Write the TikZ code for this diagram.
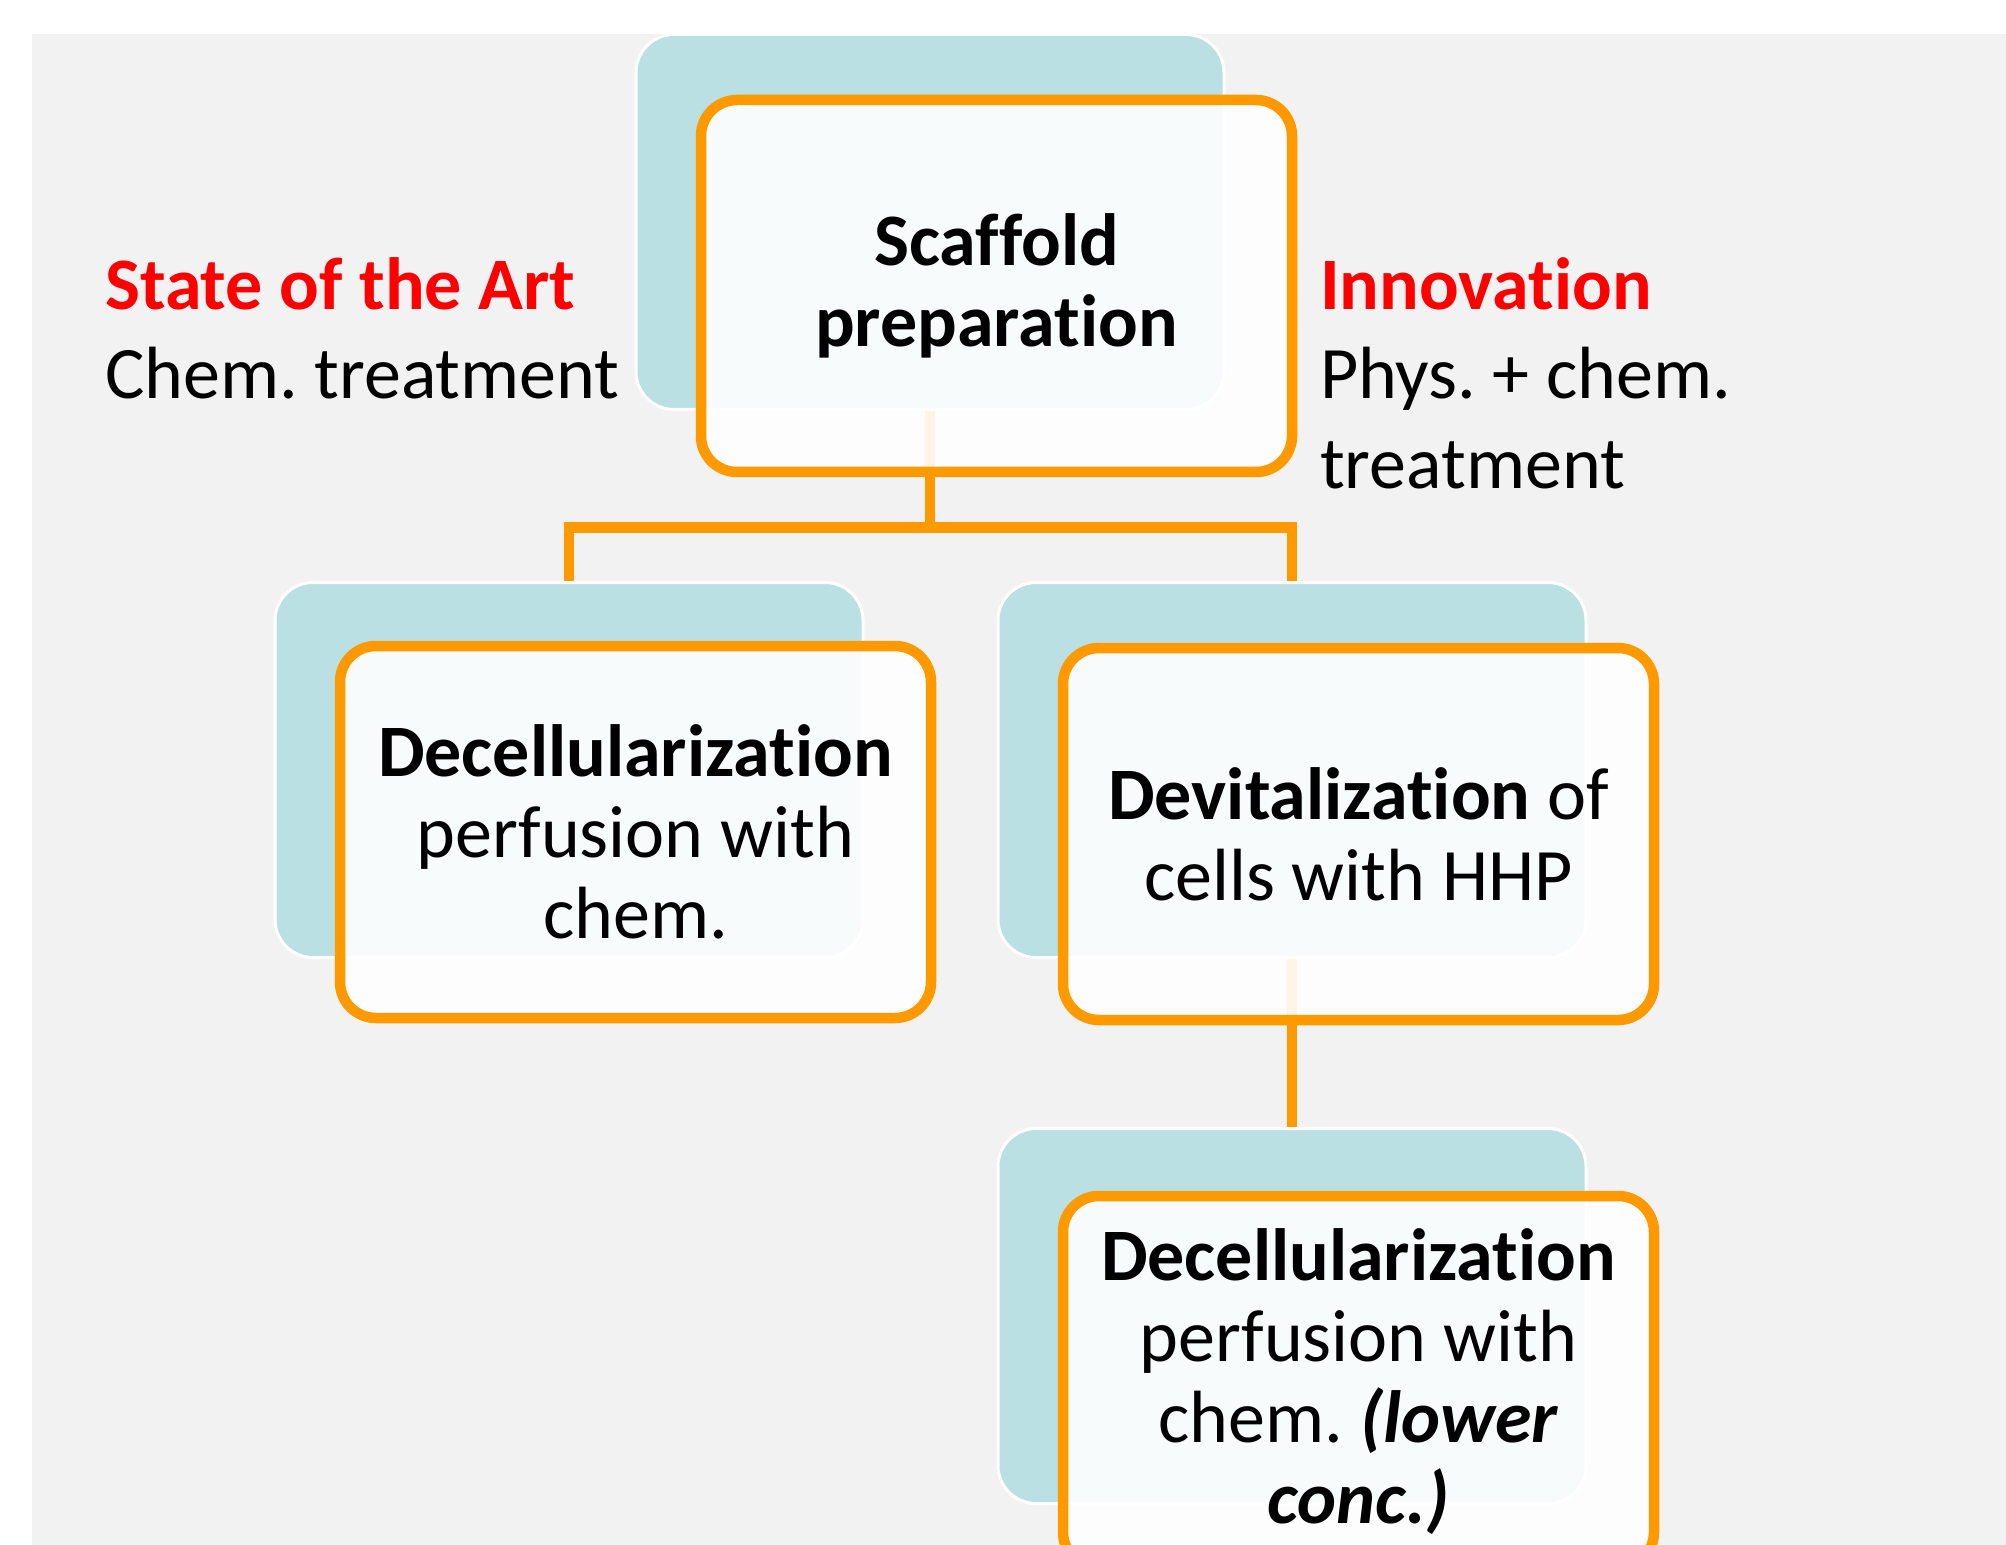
\documentclass[tikz,border=0pt]{standalone}
\usepackage{fontspec}
\setmainfont{Carlito}[Ligatures=NoCommon]
\usepackage{tikz}

\definecolor{boxteal}{RGB}{186,224,227}
\definecolor{boxorange}{RGB}{255,153,0}
\definecolor{pagegray}{RGB}{242,242,242}
\definecolor{labelred}{RGB}{255,0,0}

\newcommand{\boxfont}{\fontsize{37}{40.5}\selectfont}
\newcommand{\labelfont}{\fontsize{37}{44.5}\selectfont}

\tikzset{
    backbox/.style={rectangle,rounded corners=19pt,fill=boxteal,draw=white,line width=1.5pt,
        minimum width=294pt,minimum height=187.5pt},
    frontbox/.style={rectangle,rounded corners=18pt,fill=white,fill opacity=0.9,text opacity=1,
        draw=boxorange,line width=5.25pt,minimum width=295.5pt,minimum height=186pt,
        align=center,font=\boxfont},
    link/.style={draw=boxorange,line width=5.25pt},
    sidelabel/.style={anchor=base west,align=left,font=\labelfont}
}

\frenchspacing
\begin{document}
\begin{tikzpicture}[x=0.5pt,y=-0.5pt]
    \useasboundingbox (0,0) rectangle (2006,1545);
    \fill[pagegray] (32,34) rectangle (2006,1545);

    \coordinate (split) at (930,527.5);

    \node (tealtop) at (930,222) [backbox] {};
    \node (tealleft) at (569,770) [backbox] {};
    \node (tealright) at (1292,770) [backbox] {};
    \node (tealbottom) at (1292,1316) [backbox] {};

    \draw[link] (tealtop.south) -- (split);
    \draw[link] (tealleft.north) |- (split) -| (tealright.north);
    \draw[link] (tealright.south) -- (tealbottom.north);

    \node (scaffold) at (996.5,286) [frontbox] {\textbf{Scaffold}\\\textbf{preparation}};
    \node (decell) at (635.5,832) [frontbox] {\textbf{Decellularization}\\perfusion with\\chem.};
    \node (devital) at (1358.5,834) [frontbox] {\textbf{Devitalization} of\\cells with HHP};
    \node (decelllow) at (1358.5,1382) [frontbox] {\textbf{Decellularization}\\perfusion with\\chem. \textbf{\textit{(lower}}\\\textbf{\textit{conc.)}}};

    \node (stateart) at (98,399) [sidelabel] {\textcolor{labelred}{\textbf{State of the Art}}\\Chem. treatment};
    \node (innovation) at (1313,488) [sidelabel] {\textcolor{labelred}{\textbf{Innovation}}\\Phys. + chem.\\treatment};
\end{tikzpicture}
\end{document}
